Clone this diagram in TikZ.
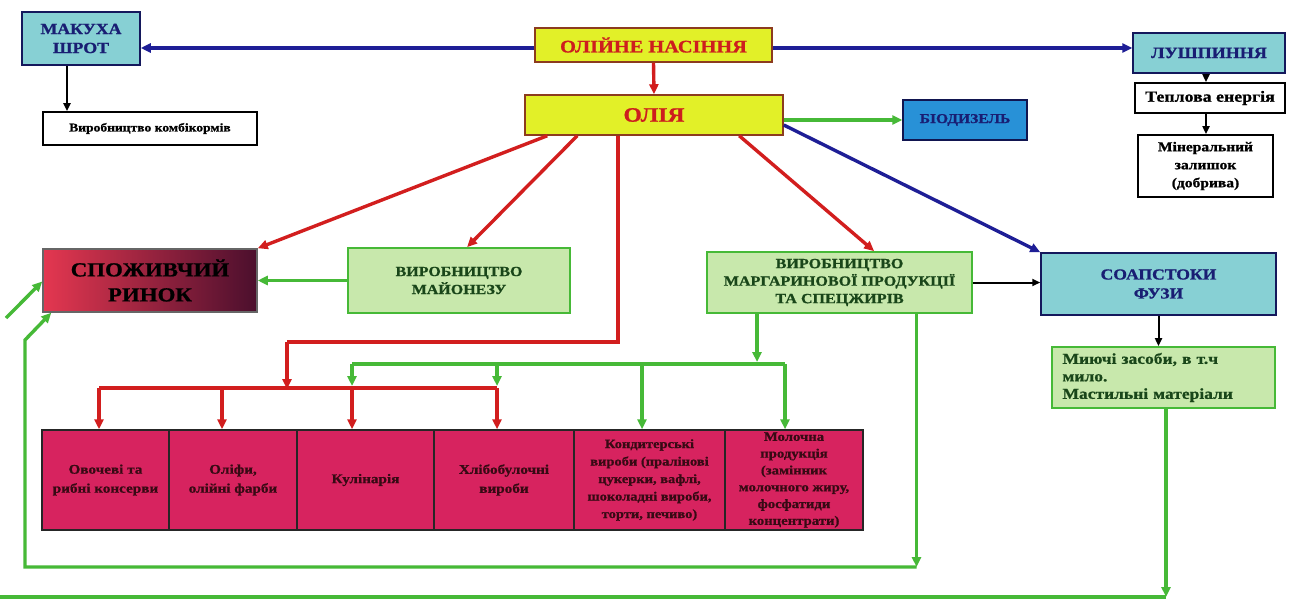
\documentclass[tikz,border=0pt]{standalone}
\usepackage{fontspec}
\setmainfont{Liberation Serif}[FakeStretch=1.15, BoldFeatures={FakeBold=0.9}]
\usetikzlibrary{arrows.meta}
\definecolor{tealf}{RGB}{135,208,212}
\definecolor{dblue}{RGB}{25,30,115}
\definecolor{yelf}{RGB}{226,240,40}
\definecolor{brownd}{RGB}{140,60,30}
\definecolor{redt}{RGB}{205,30,30}
\definecolor{lgreen}{RGB}{200,232,172}
\definecolor{gline}{RGB}{70,185,55}
\definecolor{dgreen}{RGB}{25,70,25}
\definecolor{biof}{RGB}{40,145,215}
\definecolor{pinkf}{RGB}{215,35,95}
\definecolor{gradl}{RGB}{228,55,80}
\definecolor{gradr}{RGB}{75,15,45}
\definecolor{redl}{RGB}{210,30,30}
\definecolor{bluel}{RGB}{30,30,150}
\definecolor{maroon}{RGB}{55,10,20}
\newcommand\fsz[2]{\fontsize{#1}{#2}\selectfont\bfseries}
\tikzset{
  bx/.style={inner sep=0pt, align=center, line width=1.5pt},
  tealbox/.style={bx, fill=tealf, draw=dblue!80!black, text=dblue},
  whitebox/.style={bx, fill=white, draw=black, line width=1.8pt, text=black},
  yelbox/.style={bx, fill=yelf, draw=brownd, text=redt},
  greenbox/.style={bx, fill=lgreen, draw=gline, line width=1.8pt, text=dgreen},
  biobox/.style={bx, fill=biof, draw=dblue!70!black, text=dblue},
  pinkbox/.style={bx, fill=pinkf, draw=black!85, line width=1.5pt, text=maroon, minimum height=100pt},
  tip/.style={-{Triangle[length=10pt,width=9pt]}},
  redarr/.style={tip, draw=redl, line width=3.4pt},
  greenarr/.style={tip, draw=gline, line width=3.4pt},
  bluearr/.style={tip, draw=bluel, line width=3.4pt},
  blackarr/.style={-{Triangle[length=8pt,width=7pt]}, draw=black, line width=2pt},
  redln/.style={draw=redl, line width=3.4pt},
  greenln/.style={draw=gline, line width=3.4pt}
}
\begin{document}
\begin{tikzpicture}[x=1pt,y=-1pt]
\useasboundingbox (0,0) rectangle (1292,599);
\fill[white] (0,0) rectangle (1292,599);

% ---------- nodes ----------
\node[tealbox, minimum width=118pt, minimum height=53pt, font=\fsz{15.5}{19}] (makukha) at (81,38.5) {МАКУХА\\ШРОТ};
\node[whitebox, minimum width=214pt, minimum height=33pt, font=\fsz{11.8}{13}] (kombi) at (150,128.5) {Виробництво комбікормів};
\node[yelbox, minimum width=237pt, minimum height=34pt, font=\fsz{17.7}{19}] (nasinnya) at (653.5,45) {ОЛІЙНЕ НАСІННЯ};
\node[yelbox, minimum width=258pt, minimum height=40pt, font=\fsz{20.5}{24}] (oliya) at (654,115) {ОЛІЯ};
\node[tealbox, minimum width=152pt, minimum height=40pt, font=\fsz{15.7}{17}] (lushp) at (1209,53) {ЛУШПИННЯ};
\node[whitebox, minimum width=150pt, minimum height=30pt, font=\fsz{15.5}{17}] (teplova) at (1210,98) {Теплова енергія};
\node[whitebox, minimum width=135pt, minimum height=62pt, font=\fsz{13.5}{18}] (mineral) at (1205.5,166) {Мінеральний\\залишок\\(добрива)};
\node[biobox, minimum width=124pt, minimum height=40pt, font=\fsz{13.5}{16}] (bio) at (965,120) {БІОДИЗЕЛЬ};
\node[bx, draw=black!60, left color=gradl, right color=gradr, minimum width=214pt, minimum height=63pt, font=\fsz{19.9}{25}, text=black] (spozh) at (150,280.5) {СПОЖИВЧИЙ\\РИНОК};
\node[greenbox, minimum width=222pt, minimum height=65pt, font=\fsz{13.9}{18}] (mayonez) at (459,280.5) {ВИРОБНИЦТВО\\МАЙОНЕЗУ};
\node[greenbox, minimum width=265pt, minimum height=61pt, font=\fsz{14}{17.5}] (margarin) at (839.5,282.5) {ВИРОБНИЦТВО\\МАРГАРИНОВОЇ ПРОДУКЦІЇ\\ТА СПЕЦЖИРІВ};
\node[tealbox, minimum width=235pt, minimum height=62pt, font=\fsz{15.3}{19}] (soap) at (1158.5,284) {СОАПСТОКИ\\ФУЗИ};
\node[greenbox, minimum width=223pt, minimum height=61pt, font=\fsz{15.2}{17.5}, text width=202pt, align=left] (miyuchi) at (1163.5,377.5) {Миючі засоби, в т.ч\\мило.\\Мастильні матеріали};

\node[pinkbox, minimum width=127pt, font=\fsz{13.2}{19}] (b1) at (105.5,480) {Овочеві та\\рибні консерви};
\node[pinkbox, minimum width=128pt, font=\fsz{13.2}{19}] (b2) at (233,480) {Оліфи,\\олійні фарби};
\node[pinkbox, minimum width=137pt, font=\fsz{13.2}{19}] (b3) at (365.5,480) {Кулінарія};
\node[pinkbox, minimum width=140pt, font=\fsz{13.2}{19}] (b4) at (504,480) {Хлібобулочні\\вироби};
\node[pinkbox, minimum width=151pt, font=\fsz{12.6}{17.5}] (b5) at (649.5,480) {Кондитерські\\вироби (пралінові\\цукерки, вафлі,\\шоколадні вироби,\\торти, печиво)};
\node[pinkbox, minimum width=138pt, font=\fsz{12.8}{16.8}] (b6) at (794,480) {Молочна\\продукція\\(замінник\\молочного жиру,\\фосфатиди\\концентрати)};

% ---------- coordinates ----------
\coordinate (r3a) at (618,342);
\coordinate (r3b) at (287,342);
\coordinate (rbL) at (99,388);
\coordinate (rb2) at (222,388);
\coordinate (rb3) at (352,388);
\coordinate (rbR) at (497,388);
\coordinate (gtop) at (757,364);
\coordinate (gbL) at (352,364);
\coordinate (gb2) at (497,364);
\coordinate (gb3) at (642,364);
\coordinate (gbR) at (785,364);
\coordinate (loopR) at (916.5,567);
\coordinate (loopL) at (25,567);
\coordinate (loopU) at (25,340);
\coordinate (diagS) at (6,318);
\coordinate (botL) at (0,597);
\coordinate (botR) at (1166,597);

% ---------- connectors ----------
\draw[bluearr] ([yshift=-3pt]nasinnya.west) -- ([yshift=-3pt]nasinnya.west -| makukha.east);
\draw[bluearr] ([yshift=-3pt]nasinnya.east) -- ([yshift=-3pt]nasinnya.east -| lushp.west);
\draw[redarr] (nasinnya.south) -- (oliya.north);
\draw[blackarr] ([xshift=-14pt]makukha.south) -- ([xshift=-14pt]makukha.south |- kombi.north);
\draw[blackarr] ([xshift=-3pt]lushp.south) -- ([xshift=-3pt]lushp.south |- teplova.north);
\draw[blackarr] ([xshift=-4pt]teplova.south) -- ([xshift=-4pt]teplova.south |- mineral.north);
\draw[greenarr] ([yshift=-5pt]oliya.east) -- ([yshift=-5pt]oliya.east -| bio.west);
\draw[bluearr] ([yshift=-10pt]oliya.east) -- (soap.north west);
\draw[redarr] ([xshift=23pt]oliya.south west) -- (spozh.north east);
\draw[redarr] ([xshift=53pt]oliya.south west) -- ([xshift=120pt]mayonez.north west);
\draw[redarr] ([xshift=215pt]oliya.south west) -- ([xshift=168pt]margarin.north west);
\draw[redln] (r3a |- oliya.south) -- (r3a) -- (r3b);
\draw[redarr] (r3b) -- ([yshift=-1pt]r3b |- rbL);
\draw[redln] (rbL) -- (rbR);
\draw[redarr] (rbL) -- (rbL |- b1.north);
\draw[redarr] (rb2) -- (rb2 |- b2.north);
\draw[redarr] (rb3) -- (rb3 |- b3.north);
\draw[redarr] (rbR) -- (rbR |- b4.north);
\draw[greenarr] (mayonez.west) -- (mayonez.west -| spozh.east);
\draw[blackarr] (margarin.east) -- (margarin.east -| soap.west);
\draw[blackarr] (soap.south) -- (soap.south |- miyuchi.north);
\draw[greenarr] (gtop |- margarin.south) -- ([yshift=2pt]gtop);
\draw[greenln] (gbL) -- (gbR);
\draw[greenarr] (gbL) -- ([yshift=2pt]gbL |- rbL);
\draw[greenarr] (gb2) -- ([yshift=2pt]gb2 |- rbL);
\draw[greenarr] (gb3) -- (gb3 |- b5.north);
\draw[greenarr] (gbR) -- (gbR |- b6.north);
\draw[greenarr] (loopR |- margarin.south) -- (loopR);
\draw[greenarr] (loopR) -- (loopL) -- (loopU) -- ([xshift=9pt]spozh.south west);
\draw[greenarr] (diagS) -- ([yshift=-1pt]spozh.west);
\draw[greenln] (botL) -- (botR);
\draw[greenarr] (botR |- miyuchi.south) -- (botR);
\end{tikzpicture}
\end{document}
